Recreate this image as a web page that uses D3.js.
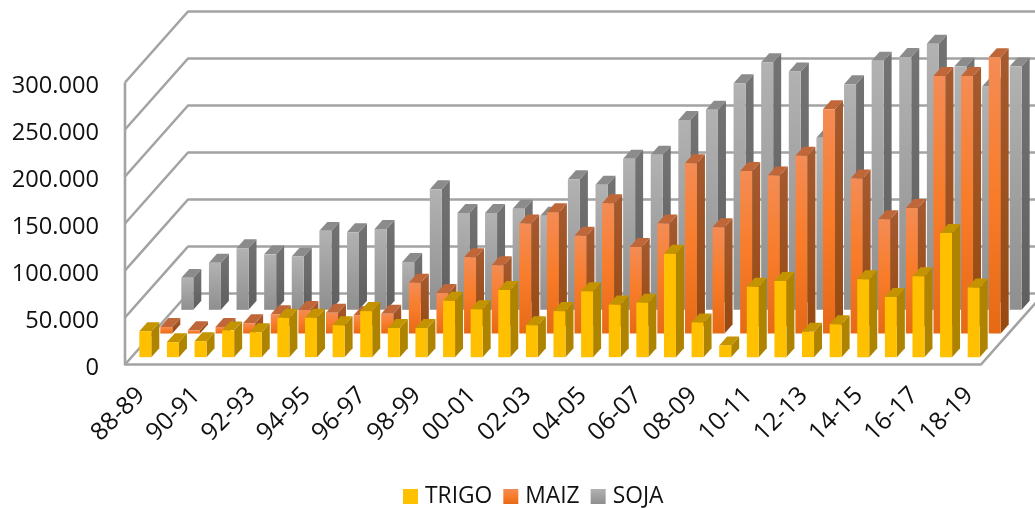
<!DOCTYPE html>
<meta charset="utf-8">
<style>
    html, body { margin: 0; background: #fff; }
    svg { display: block; filter: blur(0.45px); }
    text { font-family: "Open Sans", sans-serif; fill: #111; }
    .grid { fill: none; stroke: #a3a3a3; stroke-width: 2.6; stroke-linejoin: round; }
    .axis path, .axis line { display: none; }
    .axis text { font-size: 23.6px; }
    .axis.cat text { font-size: 24.6px; }
    .legend text { font-size: 22.8px; }
</style>
<svg width="1035" height="509">
    <defs>
        <linearGradient id="gradMaiz" x1="0" y1="0" x2="0" y2="1">
            <stop offset="0" stop-color="#f48c55"></stop>
            <stop offset="0.5" stop-color="#f87c29"></stop>
            <stop offset="1" stop-color="#e66a16"></stop>
        </linearGradient>
        <linearGradient id="gradMaizSide" x1="0" y1="0" x2="0" y2="1">
            <stop offset="0" stop-color="#a55a30"></stop>
            <stop offset="1" stop-color="#96490f"></stop>
        </linearGradient>
        <linearGradient id="gradSoja" x1="0" y1="0" x2="0" y2="1">
            <stop offset="0" stop-color="#b2b2b2"></stop>
            <stop offset="1" stop-color="#8f8f8f"></stop>
        </linearGradient>
        <linearGradient id="gradSojaSide" x1="0" y1="0" x2="0" y2="1">
            <stop offset="0" stop-color="#737373"></stop>
            <stop offset="1" stop-color="#5f5f5f"></stop>
        </linearGradient>
    </defs>
</svg>

<script src="https://cdnjs.cloudflare.com/ajax/libs/d3/7.8.5/d3.min.js"></script>

<script>

    var campaigns = ["88-89", "89-90", "90-91", "91-92", "92-93", "93-94", "94-95", "95-96",
        "96-97", "97-98", "98-99", "99-00", "00-01", "01-02", "02-03", "03-04", "04-05",
        "05-06", "06-07", "07-08", "08-09", "09-10", "10-11", "11-12", "12-13", "13-14",
        "14-15", "15-16", "16-17", "17-18", "18-19"];

    var seriesNames = ["TRIGO", "MAIZ", "SOJA"];

    var trigo = [27600, 16000, 17000, 28500, 26500, 42000, 42000, 34000, 49000, 31000, 31000,
        60000, 51000, 71500, 34000, 49000, 70000, 56000, 58000, 110000, 37000, 12500, 75000,
        81000, 27000, 35000, 83000, 64000, 86000, 132000, 74000];

    var maiz = [7000, 3500, 7000, 11000, 20500, 25000, 22000, 19500, 21000, 54000, 43000,
        81000, 72500, 117000, 129000, 104000, 138500, 92000, 117000, 181000, 113000, 173000,
        168000, 189000, 238500, 165000, 121500, 133600, 274000, 274000, 294000];

    var soja = [34000, 50000, 65600, 59000, 56700, 84000, 82500, 86000, 51000, 128400, 103000,
        103000, 107500, 100000, 139000, 133000, 160600, 165000, 202000, 212800, 241000, 263500,
        253500, 183000, 240000, 265000, 269000, 283000, 259000, 237500, 259000];

    var seriesValues = { TRIGO: trigo, MAIZ: maiz, SOJA: soja };

    var faceColors = {
        TRIGO: { front: "#ffc000", side: "#ad8300", top: "#c49400" },
        MAIZ: { front: "url(#gradMaiz)", side: "url(#gradMaizSide)", top: "#c0673a" },
        SOJA: { front: "url(#gradSoja)", side: "url(#gradSojaSide)", top: "#8b8b8b" }
    };

    var svg = d3.select("svg");

    var left = 125, right = 981, floorY = 364.5, topY = 82.5,
        depthX = 63, depthY = 71;

    var x = d3.scaleBand()
            .domain(campaigns)
            .range([left, right])
            .paddingInner(0.565)
            .paddingOuter(0.2825);

    var y = d3.scaleLinear()
            .domain([0, 300000])
            .range([floorY, topY]);

    // depth axis, 0 is the front of the floor and 1 the back wall
    var z = d3.scaleBand()
            .domain(seriesNames)
            .range([0, 1])
            .paddingInner(0.62)
            .paddingOuter(0.31);

    function pt(px, value, depth) {
        return [px + depth * depthX, y(value) - depth * depthY];
    }

    // walls
    var grid = svg.append("g");

    y.ticks(6).forEach(function(t) {
        var path = d3.path(),
            a = pt(left, t, 0),
            b = pt(left, t, 1),
            c = pt(right, t, 1);
        path.moveTo(a[0], a[1]);
        path.lineTo(b[0], b[1]);
        path.lineTo(c[0], c[1]);
        grid.append("path").attr("class", "grid").attr("d", path.toString());
    });

    var frame = d3.line();
    grid.append("path").attr("class", "grid").attr("d", frame([
        pt(left, 300000, 0), pt(left, 0, 0), pt(right, 0, 0), pt(right, 0, 1)
    ]));

    // bars, back series first so the front ones cover them
    seriesNames.slice().reverse().forEach(function(name) {

        var colors = faceColors[name],
            z0 = z(name),
            z1 = z0 + z.bandwidth();

        var bars = svg.append("g")
                .selectAll("g")
                .data(seriesValues[name])
                .enter().append("g");

        var x0 = function(d, i) { return x(campaigns[i]); },
            x1 = function(d, i) { return x(campaigns[i]) + x.bandwidth(); };

        bars.append("polygon")
                .attr("fill", colors.side)
                .attr("points", function(d, i) {
                    return [pt(x1(d, i), 0, z0), pt(x1(d, i), 0, z1), pt(x1(d, i), d, z1), pt(x1(d, i), d, z0)].join(" ");
                });

        bars.append("polygon")
                .attr("fill", colors.top)
                .attr("points", function(d, i) {
                    return [pt(x0(d, i), d, z0), pt(x1(d, i), d, z0), pt(x1(d, i), d, z1), pt(x0(d, i), d, z1)].join(" ");
                });

        bars.append("polygon")
                .attr("fill", colors.front)
                .attr("points", function(d, i) {
                    return [pt(x0(d, i), 0, z0), pt(x1(d, i), 0, z0), pt(x1(d, i), d, z0), pt(x0(d, i), d, z0)].join(" ");
                });
    });

    // axes
    var fmt = d3.formatLocale({ decimal: ",", thousands: ".", grouping: [3], currency: ["$", ""] }).format(",");

    svg.append("g")
            .attr("class", "axis")
            .attr("transform", "translate(" + left + ",2)")
            .call(d3.axisLeft(y).ticks(6).tickSize(0).tickPadding(26).tickFormat(fmt));

    var xAxis = d3.axisBottom(x)
            .tickValues(campaigns.filter(function(d, i) { return i % 2 === 0; }))
            .tickSize(0);

    svg.append("g")
            .attr("class", "axis cat")
            .attr("transform", "translate(0," + floorY + ")")
            .call(xAxis)
            .selectAll("text")
            .attr("text-anchor", "end")
            .attr("dy", null)
            .attr("transform", "translate(5,30) rotate(-45)");

    // legend, laid out from the measured text widths
    var legend = svg.append("g").attr("class", "legend"),
        cursor = 403;

    seriesNames.forEach(function(name) {
        legend.append("rect")
                .attr("x", cursor)
                .attr("y", 489)
                .attr("width", 15)
                .attr("height", 15)
                .attr("fill", faceColors[name].front);

        var label = legend.append("text")
                .attr("x", cursor + 22)
                .attr("y", 503)
                .text(name);

        cursor += 22 + label.node().getComputedTextLength() + 11;
    });

</script>
